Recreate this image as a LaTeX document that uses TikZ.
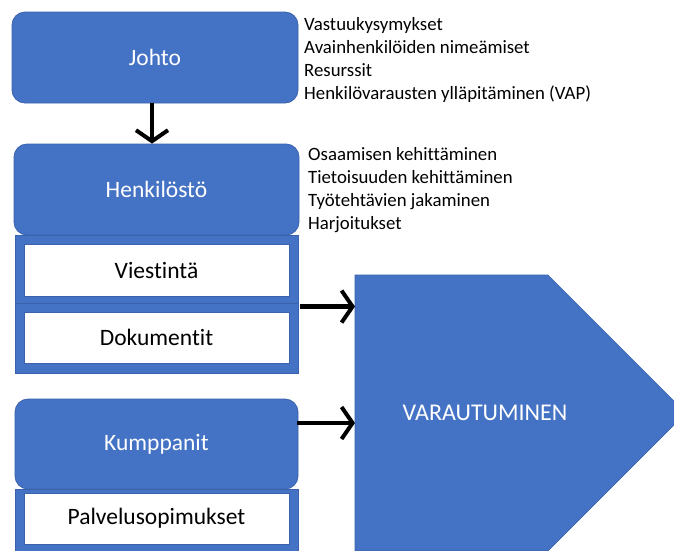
\documentclass[tikz,border=0pt]{standalone}
\usepackage{fontspec}
\setmainfont{Carlito}[RawFeature={-liga;-clig;-dlig}]
\usetikzlibrary{arrows.meta,calc}
\definecolor{officeblue}{HTML}{4472C4}
\definecolor{officeedge}{HTML}{3A62AD}

\begin{document}
\begin{tikzpicture}[x=1pt,y=-1pt,
  headbox/.style={draw=officeedge, line width=0.8pt, fill=officeblue,
    rounded corners=13pt, text=white, inner sep=0pt,
    font=\fontsize{23.5}{28}\selectfont},
  stackbox/.style={draw=officeedge, line width=0.9pt, fill=officeblue, inner sep=0pt},
  itembox/.style={draw=officeedge, line width=0.6pt, fill=white, text=black,
    inner sep=0pt, minimum width=265pt, font=\fontsize{23.5}{28}\selectfont},
  listtext/.style={inner sep=0pt, anchor=base west, text=black,
    font=\fontsize{18.8}{23}\selectfont},
  flowarrow/.style={line width=4.6pt, -{Straight Barb[length=11pt,width=32pt,line width=4pt]}}]
\clip (0,0) rectangle (674,550);

% Johto
\node[headbox, minimum width=286pt, minimum height=91pt] (johto) at (155,57.5) {Johto};

% Henkilöstö with its two sub-items
\node[stackbox, minimum width=283pt, minimum height=68pt] (stk1) at (156.5,269) {};
\node[stackbox, minimum width=283pt, minimum height=70pt] (stk2) at (156.5,338) {};
\node[headbox, minimum width=285pt, minimum height=91pt] (henk) at (156.5,189.5) {Henkilöstö};
\node[itembox, minimum height=52pt] (viest) at (156.5,270) {Viestintä};
\node[itembox, minimum height=51pt] (dok) at (156.5,337.5) {Dokumentit};

% Kumppanit with its sub-item
\node[stackbox, minimum width=283pt, minimum height=75pt] (stk3) at (156.5,526.5) {};
\node[headbox, minimum width=283pt, minimum height=90pt] (kump) at (156.5,444) {Kumppanit};
\node[itembox, minimum height=51pt] (palv) at (156.5,518.5) {Palvelusopimukset};

% Varautuminen pentagon
\fill[officeblue, draw=officeedge, line width=0.6pt]
  (355,275) -- (548,275) -- (686,413) -- (548,551) -- (355,551) -- cycle;
\coordinate (varL) at (355,413);
\node[text=white, inner sep=0pt, font=\fontsize{24}{28}\selectfont] (varaut) at (485,413) {VARAUTUMINEN};

% Lists
\foreach \t [count=\i] in {Vastuukysymykset, Avainhenkilöiden nimeämiset, Resurssit, Henkilövarausten ylläpitäminen (VAP)}
  \node[listtext] (jl\i) at (304,{30+23.3*(\i-1)}) {\t};
\foreach \t [count=\i] in {Osaamisen kehittäminen, Tietoisuuden kehittäminen, Työtehtävien jakaminen, Harjoitukset}
  \node[listtext] (hl\i) at (308,{160+23*(\i-1)}) {\t};

% Connectors
\draw[flowarrow] ($(johto.south)+(-3,0)$) coordinate (d1) -- (d1 |- henk.north);
\draw[flowarrow] ($(stk2.north east)+(2,4)$) coordinate (a1) -- (a1 -| varL);
\draw[flowarrow] ($(kump.east)+(-1,-21)$) coordinate (a2) -- (a2 -| varL);
\end{tikzpicture}
\end{document}
